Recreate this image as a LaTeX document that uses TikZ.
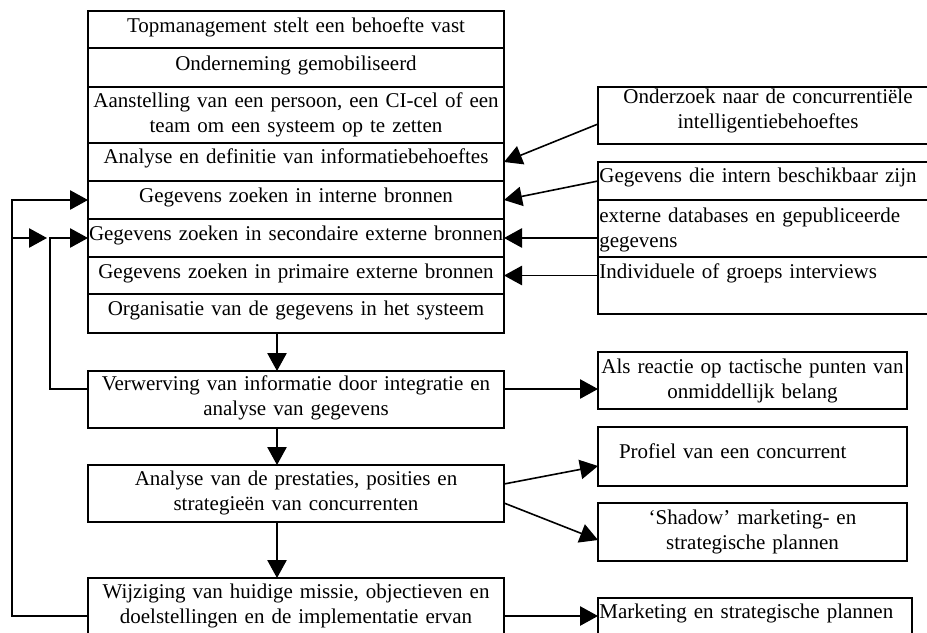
\documentclass[tikz,border=0pt]{standalone}
\usepackage{fontspec}
\setmainfont{Liberation Serif}
\usetikzlibrary{arrows.meta}
\newcommand{\boxfont}{\fontsize{15.75pt}{18.75pt}\selectfont\hyphenpenalty=10000\relax}
\begin{document}
\begin{tikzpicture}[x=0.75pt, y=-0.75pt,
  box/.style={draw, line width=1.2pt, anchor=north west, outer sep=0pt,
    inner xsep=1pt, inner ysep=0pt, font=\boxfont},
  stack/.style={box, text width=310pt, align=center},
  side/.style={box, text width=229.75pt, align=center},
  arr/.style={line width=1.2pt, -{Triangle[length=13.5pt, width=14.5pt]}}]
\useasboundingbox (0,0) rectangle (927,632);

% main column
\node[stack, text height=15.75pt, text depth=12pt]    (L1) at (88,11)  {Topmanagement stelt een behoefte vast};
\node[stack, text height=16.5pt,  text depth=12.75pt] (L2) at (88,48)  {Onderneming gemobiliseerd};
\node[stack, text height=15pt,    text depth=27pt]    (L3) at (88,87)  {Aanstelling van een persoon, een CI-cel of een\\team om een systeem op te zetten};
\node[stack, text height=15pt,    text depth=13.5pt]  (L4) at (88,143) {Analyse en definitie van informatiebehoeftes};
\node[stack, text height=15.75pt, text depth=12.75pt] (L5) at (88,181) {Gegevens zoeken in interne bronnen};
\node[stack, text height=15.75pt, text depth=12.75pt] (L6) at (88,219) {\makebox[\linewidth][c]{Gegevens zoeken in secondaire externe bronnen}};
\node[stack, text height=15.75pt, text depth=12pt]    (L7) at (88,257) {Gegevens zoeken in primaire externe bronnen};
\node[stack, text height=15.75pt, text depth=13.5pt]  (L8) at (88,294) {Organisatie van de gegevens in het systeem};

\node[stack, text height=14.25pt, text depth=28.5pt]  (V) at (88,371) {Verwerving van informatie door integratie en\\analyse van gegevens};
\node[stack, text height=15pt,    text depth=27.75pt] (A) at (88,465) {Analyse van de prestaties, posities en\\strategieën van concurrenten};
\node[stack, text height=15pt,    text depth=30pt]    (W) at (88,578) {Wijziging van huidige missie, objectieven en\\doelstellingen en de implementatie ervan};

% sources on the right
\node[box, text width=253pt, align=center, text height=12pt, text depth=30.75pt] (R1) at (598,87)
  {Onderzoek naar de concurrentiële\\intelligentiebehoeftes};
\node[box, text width=253pt, align=left, text height=15pt,   text depth=13.5pt]  (R2) at (598,162)
  {Gegevens die intern beschikbaar zijn};
\node[box, text width=253pt, align=left, text height=16.5pt, text depth=26.25pt] (R3) at (598,200)
  {externe databases en gepubliceerde\\gegevens};
\node[box, text width=253pt, align=left, text height=15.75pt, text depth=27pt]   (R4) at (598,257)
  {Individuele of groeps interviews};

% results on the right
\node[side, text height=15.75pt, text depth=27pt]    (B1) at (598,352) {Als reactie op tactische punten van\\onmiddellijk belang};
\node[box, inner xsep=15.75pt, text width=200.25pt, align=left, text height=23.25pt, text depth=21pt] (B2) at (598,427)
  {Profiel van een concurrent};
\node[side, text height=15.75pt, text depth=27.75pt] (B3) at (598,503) {`Shadow' marketing- en\\strategische plannen};
\node[box, text width=233.5pt, align=left, text height=15pt, text depth=30pt] (B4) at (598,598)
  {Marketing en strategische plannen};

% helper coordinates
\coordinate (spine) at (277,0);
\coordinate (yV) at (0,389);
\coordinate (yW) at (0,616);
\coordinate (yR1) at (0,124);
\coordinate (yA1) at (0,484);
\coordinate (yB2) at (0,466);
\coordinate (yA2) at (0,503);
\coordinate (yB3) at (0,540);
\coordinate (jOut) at (12,238);
\coordinate (jIn) at (50,238);

% main flow
\draw[arr] (L8.south -| spine) -- (V.north -| spine);
\draw[arr] (V.south -| spine) -- (A.north -| spine);
\draw[arr] (A.south -| spine) -- (W.north -| spine);

% feedback loops
\draw[arr] (W.west |- yW) -| (12,200) -- (L5.west);
\draw[arr] (jOut) -- ([xshift=-2.25pt]jIn);
\draw[arr] (V.west |- yV) -| (jIn) -- (L6.west);

% inputs
\draw[arr] (R1.west |- yR1) -- (L4.east);
\draw[arr] (R2.west) -- (L5.east);
\draw[arr] (R3.west |- L6.east) -- (L6.east);
\draw[arr] (R4.west |- L7.east) -- (L7.east);

% outputs
\draw[arr] (V.east |- yV) -- (B1.west |- yV);
\draw[arr] (A.east |- yA1) -- (B2.west |- yB2);
\draw[arr] (A.east |- yA2) -- (B3.west |- yB3);
\draw[arr] (W.east |- yW) -- (B4.west |- yW);
\end{tikzpicture}
\end{document}
